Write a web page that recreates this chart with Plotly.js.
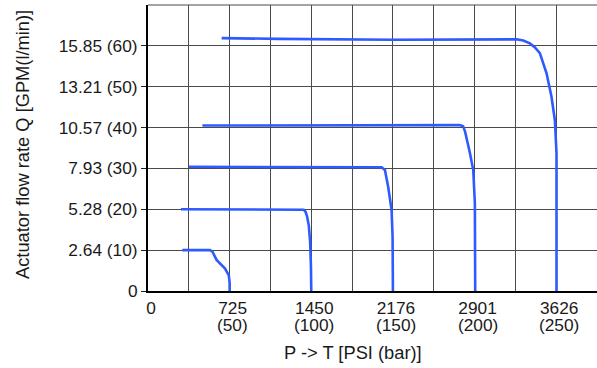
<!DOCTYPE html>
<html>
<head>
<meta charset="utf-8">
<script src="https://cdn.plot.ly/plotly-3.0.1.min.js"></script>
<style>html,body{margin:0;padding:0;background:#fff;}#chart{width:597px;height:368px;}</style>
</head>
<body>
<div id="chart"></div>
<script>
// x values in bar, y values in l/min
const q10x = [21, 38, 39.5, 42, 47.2, 49.5, 50, 50];
const q10y = [10, 10, 9.6, 7.6, 5.5, 3.8, 2.0, 0];
const q20x = [20.2, 94, 95.3, 96.5, 97.4, 98.5, 99.3, 99.8, 100];
const q20y = [20, 20, 19.9, 19.4, 18.3, 16, 12, 6, 0];
const q30x = [25.1, 141, 143.1, 145.1, 147.1, 149.2, 149.8, 150];
const q30y = [30.4, 30.4, 30.3, 29.6, 25.5, 19.8, 13.3, 0];
const q40x = [33.3, 110, 191, 193, 194.2, 197.2, 199.2, 200.2, 200.4];
const q40y = [40.5, 40.6, 40.6, 40.3, 39.0, 33.7, 29.6, 21.5, 0];
const q60x = [45.1, 80, 150, 215, 225.8, 229.8, 233.9, 237, 240, 244.1, 247.1, 249.2, 250.2, 250.2];
const q60y = [61.9, 61.7, 61.5, 61.6, 61.6, 61.3, 60.6, 59.6, 58.2, 53.3, 47.6, 41.8, 33.7, 0];

const xGridVals = [0, 25, 50, 75, 100, 125, 150, 175, 200, 225, 250];
const xPsiText  = ['0', '', '725', '', '1450', '', '2176', '', '2901', '', '3626'];
const xBarVals  = [50, 100, 150, 200, 250];
const xBarText  = ['(50)', '(100)', '(150)', '(200)', '(250)'];
const yTickVals = [0, 10, 20, 30, 40, 50, 60];
const yTickText = ['0', '2.64 (10)', '5.28 (20)', '7.93 (30)', '10.57 (40)', '13.21 (50)', '15.85 (60)'];

const xTitle = 'P -> T [PSI (bar)]';
const yTitle = 'Actuator flow rate Q [GPM(l/min)]';

const blue = '#2d5bff';
const series = [[q10x,q10y],[q20x,q20y],[q30x,q30y],[q40x,q40y],[q60x,q60y]];
const data = series.map(s => ({
  x: s[0], y: s[1], type: 'scatter', mode: 'lines',
  line: {color: blue, width: 2.6}, hoverinfo: 'skip', showlegend: false
}));

const font = {family: 'Liberation Sans, Arial, sans-serif', color: '#1a1a1a'};
const annotations = xBarVals.map((v, i) => ({
  x: v, y: 0, xref: 'x', yref: 'y', text: xBarText[i], showarrow: false,
  xanchor: 'center', yanchor: 'middle', yshift: -34, xshift: 3,
  font: Object.assign({size: 17.3}, font)
}));
annotations.push({
  x: (353-148)/449, y: (291-353)/286, xref: 'paper', yref: 'paper', text: xTitle,
  showarrow: false, xanchor: 'center', yanchor: 'middle', font: Object.assign({size: 18.3}, font)
});
annotations.push({
  x: (22-148)/449, y: (291-145)/286, xref: 'paper', yref: 'paper', text: yTitle,
  showarrow: false, textangle: -90, xanchor: 'center', yanchor: 'middle', font: Object.assign({size: 18.3}, font)
});

const layout = {
  width: 597, height: 368,
  margin: {l: 148, r: 0, t: 5, b: 77, pad: 0},
  paper_bgcolor: '#fff', plot_bgcolor: '#fff',
  font: font,
  xaxis: {
    range: [0, 275], tickmode: 'array', tickvals: xGridVals, ticktext: xPsiText,
    showgrid: true, gridcolor: '#4a4a4a', gridwidth: 1,
    showline: true, linecolor: '#000', linewidth: 2, zeroline: false,
    ticks: '', tickfont: Object.assign({size: 17.3}, font), tickangle: 0,
    ticklabelshift: 3, fixedrange: true
  },
  yaxis: {
    range: [0, 70], tickmode: 'array', tickvals: yTickVals, ticktext: yTickText,
    showgrid: true, gridcolor: '#4a4a4a', gridwidth: 1,
    showline: true, linecolor: '#000', linewidth: 2, zeroline: false,
    ticks: 'outside', ticklen: 5, tickcolor: '#222', tickwidth: 1,
    tickfont: Object.assign({size: 17.3}, font), fixedrange: true
  },
  shapes: [{type: 'line', xref: 'paper', yref: 'paper', x0: 0, x1: 1, y0: 1, y1: 1,
            line: {color: '#4a4a4a', width: 1}}],
  annotations: annotations
};

Plotly.newPlot('chart', data, layout, {displayModeBar: false, staticPlot: true});
</script>
</body>
</html>
